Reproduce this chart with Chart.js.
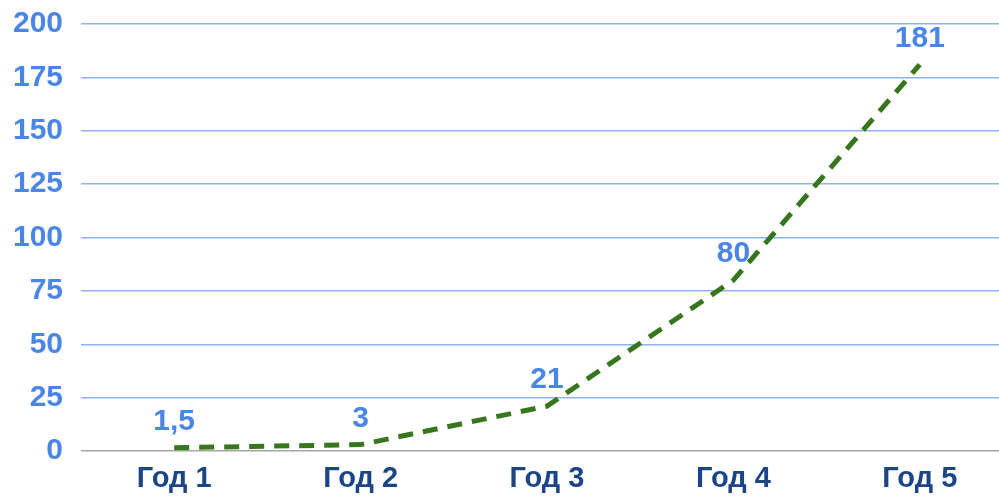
<!DOCTYPE html>
<html lang="ru">
<head>
  <meta charset="UTF-8">
  <title>Рост по годам</title>
  <script src="https://cdn.jsdelivr.net/npm/chart.js"></script>
  <style>
    html, body { margin: 0; padding: 0; background: #fff; overflow: hidden; }
    #wrap { width: 1014px; height: 496px; position: relative; }
  </style>
</head>
<body>
  <div id="wrap"><canvas id="chart"></canvas></div>

  <script>
    // chart data
    var years = ['Год 1', 'Год 2', 'Год 3', 'Год 4', 'Год 5'];
    var values = [1.5, 3, 21, 80, 181];
    var yTicks = [0, 25, 50, 75, 100, 125, 150, 175, 200];

    var blue = '#4a86e8';
    var darkBlue = '#1c4587';
    var green = '#38761d';

    // simple value labels above each point
    var pointLabels = {
      id: 'pointLabels',
      afterDatasetsDraw: function(chart) {
        var ctx = chart.ctx;
        var meta = chart.getDatasetMeta(0);
        ctx.save();
        ctx.font = 'bold 30px "Liberation Sans", Arial, sans-serif';
        ctx.fillStyle = blue;
        ctx.textAlign = 'center';
        ctx.textBaseline = 'bottom';
        meta.data.forEach(function(pt, i) {
          var txt = String(values[i]).replace('.', ',');
          ctx.fillText(txt, pt.x, pt.y - 11);
        });
        ctx.restore();
      }
    };

    new Chart(document.getElementById('chart'), {
      type: 'line',
      data: {
        labels: years,
        datasets: [{
          data: values,
          borderColor: green,
          borderWidth: 5,
          borderDash: [15, 10],
          pointRadius: 0,
          fill: false,
          tension: 0
        }]
      },
      options: {
        responsive: true,
        maintainAspectRatio: false,
        animation: false,
        layout: { padding: { top: 24, right: 1, left: 0, bottom: 0 } },
        plugins: {
          legend: { display: false },
          tooltip: { enabled: false }
        },
        scales: {
          x: {
            offset: true,
            grid: { display: false, drawTicks: false },
            border: { display: false },
            ticks: {
              color: darkBlue,
              padding: 11,
              font: { family: '"Liberation Sans", Arial, sans-serif', size: 29, weight: 'bold' }
            },
            afterFit: function(scale) {
              scale.height = 45;
              scale.paddingLeft = 0;
              scale.paddingRight = 0;
            }
          },
          y: {
            min: 0,
            max: 200,
            afterBuildTicks: function(scale) {
              scale.ticks = yTicks.map(function(v) { return { value: v }; });
            },
            grid: {
              drawTicks: false,
              lineWidth: 1.5,
              color: function(c) { return c.tick && c.tick.value === 0 ? '#a6a6a6' : '#8db3ef'; }
            },
            border: { display: false },
            ticks: {
              color: blue,
              padding: 18,
              font: { family: '"Liberation Sans", Arial, sans-serif', size: 30, weight: 'bold' }
            },
            afterFit: function(scale) {
              scale.width = 81;
              scale.paddingTop = 0;
              scale.paddingBottom = 0;
            }
          }
        }
      },
      plugins: [pointLabels]
    });
  </script>
</body>
</html>
